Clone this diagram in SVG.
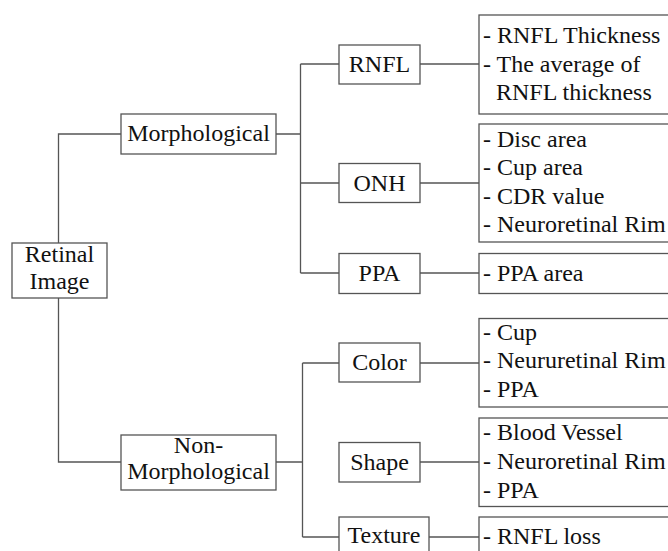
<svg xmlns="http://www.w3.org/2000/svg" width="668" height="551" viewBox="0 0 668 551" font-family="'Liberation Serif', 'Times New Roman', serif">
<style>
.box{fill:#fff;stroke:#555;stroke-width:1.3}
.ln{fill:none;stroke:#555;stroke-width:1.3}
text{font-family:'Liberation Serif','Times New Roman',serif;font-size:24px;fill:#111}
.c{text-anchor:middle}
</style>
<rect width="668" height="551" fill="#fff"/>
<g id="connectors">
<path class="ln" d="M58.5,243 V134 H121 M58.5,298 V462 H121"/>
<path class="ln" d="M276,134 H300.5 M300.5,64 V273 M300.5,64 H339 M300.5,183 H339 M300.5,273 H339"/>
<path class="ln" d="M276,462 H302.5 M302.5,363 V537 M302.5,363 H339 M302.5,537 H339"/>
<path class="ln" d="M420,64 H479 M420,183 H479 M420,273 H479 M420,363 H479 M420,462 H479 M429,537 H479"/>
</g>
<g id="retinal-image">
<rect class="box" x="12" y="243" width="95" height="55"/>
<text class="c" x="59.5" y="262">Retinal</text>
<text class="c" x="59.5" y="289">Image</text>
</g>
<g id="morphological">
<rect class="box" x="121" y="114" width="155" height="40"/>
<text class="c" x="198.5" y="141">Morphological</text>
</g>
<g id="non-morphological">
<rect class="box" x="121" y="435" width="155" height="55"/>
<text class="c" x="198.5" y="453">Non-</text>
<text class="c" x="198.5" y="479">Morphological</text>
</g>
<g id="rnfl">
<rect class="box" x="339" y="45" width="81" height="39"/>
<text class="c" x="379.5" y="72">RNFL</text>
</g>
<g id="onh">
<rect class="box" x="339" y="163.5" width="81" height="39"/>
<text class="c" x="379.5" y="191">ONH</text>
</g>
<g id="ppa">
<rect class="box" x="339" y="253.5" width="81" height="40"/>
<text class="c" x="379.5" y="281">PPA</text>
</g>
<g id="color">
<rect class="box" x="339" y="343" width="81" height="39"/>
<text class="c" x="379.5" y="370">Color</text>
</g>
<g id="shape">
<rect class="box" x="339" y="442.5" width="81" height="39.5"/>
<text class="c" x="379.5" y="470">Shape</text>
</g>
<g id="texture">
<rect class="box" x="339" y="517" width="90" height="40"/>
<text class="c" x="384" y="543">Texture</text>
</g>
<g id="rnfl-details">
<rect class="box" x="479" y="15" width="200" height="99"/>
<text x="483" y="42.5">- RNFL Thickness</text>
<text x="483" y="72">- The average of</text>
<text x="496" y="100">RNFL thickness</text>
</g>
<g id="onh-details">
<rect class="box" x="479" y="124" width="200" height="118"/>
<text x="483" y="147">- Disc area</text>
<text x="483" y="175">- Cup area</text>
<text x="483" y="203.5">- CDR value</text>
<text x="483" y="232">- Neuroretinal Rim</text>
</g>
<g id="ppa-details">
<rect class="box" x="479" y="253.5" width="200" height="40"/>
<text x="483" y="281">- PPA area</text>
</g>
<g id="color-details">
<rect class="box" x="479" y="318.5" width="200" height="88.5"/>
<text x="483" y="339.5">- Cup</text>
<text x="483" y="368">- Neururetinal Rim</text>
<text x="483" y="396.5">- PPA</text>
</g>
<g id="shape-details">
<rect class="box" x="479" y="418" width="200" height="88.5"/>
<text x="483" y="440">- Blood Vessel</text>
<text x="483" y="469">- Neuroretinal Rim</text>
<text x="483" y="497.5">- PPA</text>
</g>
<g id="texture-details">
<rect class="box" x="479" y="517" width="200" height="40"/>
<text x="483" y="543.5">- RNFL loss</text>
</g>
</svg>
